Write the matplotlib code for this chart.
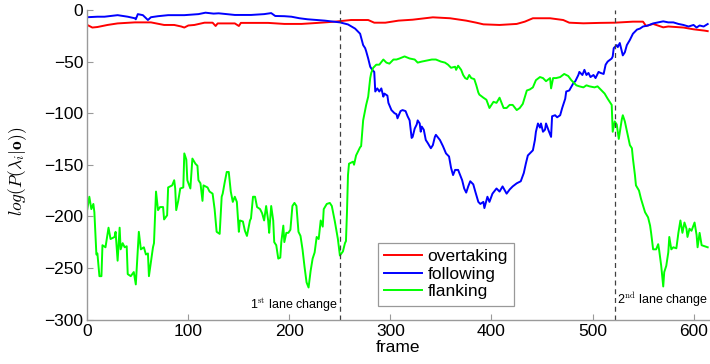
import matplotlib
matplotlib.use("Agg")
import matplotlib.pyplot as plt

plt.rcParams['font.family'] = ['Liberation Sans', 'DejaVu Sans']
plt.rcParams['mathtext.fontset'] = 'cm'

# ---- data ----
overtaking_frames = [0, 5, 10, 20, 30, 47, 63, 76, 86, 93, 96, 100, 106, 116, 124, 127, 129, 146, 150, 152,
                     179, 195, 212, 228, 245, 261, 278, 284, 295, 308, 322, 342, 359, 375, 385, 392, 408,
                     425, 433, 441, 458, 471, 477, 491, 507, 522, 540, 550, 553, 560, 570, 575, 590, 600, 611, 614]
overtaking_vals = [-14.5, -17, -16.5, -14.5, -13, -12, -12, -14.5, -14.5, -16, -17, -15, -14.5, -12.3, -12.3,
                   -15.5, -13, -13, -15.5, -12.5, -12.5, -13.5, -13.5, -12.5, -11.3, -9.7, -9.7, -12.3, -12.3,
                   -10.3, -9.4, -7.1, -8, -10.3, -12.3, -13.9, -14.5, -13.5, -11.3, -8, -8, -9.7, -12.3, -12.9,
                   -12.5, -12.3, -11.3, -11.3, -15.5, -13.5, -16.8, -16, -17, -18.7, -20, -20.5]

following_frames = [0, 10, 17, 30, 40, 47, 48, 50, 55, 60, 63, 70, 80, 96, 110, 117, 125, 130, 146, 162, 175,
                    182, 186, 195, 202, 210, 218, 235, 250, 258, 265, 270, 273, 275, 276, 278, 280, 282, 284,
                    285, 287, 289, 291, 293, 294, 297, 298, 301, 304, 306, 307, 310, 312, 315, 317, 319, 321,
                    322, 324, 326, 327, 329, 330, 331, 333, 335, 337, 340, 342, 344, 345, 349, 352, 355, 358,
                    360, 362, 364, 367, 369, 371, 373, 375, 377, 379, 382, 384, 387, 389, 392, 393, 396, 398,
                    401, 405, 408, 411, 415, 418, 421, 425, 429, 432, 434, 436, 439, 441, 443, 444, 446, 448,
                    449, 451, 453, 454, 457, 459, 460, 463, 465, 468, 470, 473, 474, 477, 481, 483, 486, 487,
                    490, 492, 494, 496, 498, 501, 503, 506, 508, 511, 513, 515, 519, 520, 521, 522, 524, 525,
                    527, 529, 530, 532, 534, 537, 540, 544, 547, 550, 555, 560, 565, 570, 575, 580, 585, 590,
                    595, 600, 603, 606, 610, 614]
following_vals = [-7, -6.5, -6.5, -5, -6.5, -8, -9, -4, -5, -9.7, -7, -6, -5, -5, -4, -2.6, -3.5, -3.2, -4.8,
                  -4.8, -4, -3, -5.8, -6, -6.5, -8, -9, -10.3, -12, -14, -18, -23, -34, -37, -40, -47, -55,
                  -58, -60, -79, -76, -79, -76, -84, -81, -83, -90, -97, -100, -101, -105, -98, -97, -98, -103,
                  -107, -124, -123, -115, -111, -107, -110, -118, -113, -116, -126, -129, -134, -131, -123,
                  -121, -126, -132, -139, -142, -153, -160, -155, -155, -160, -165, -173, -177, -171, -166,
                  -169, -176, -186, -188, -186, -192, -181, -186, -178, -173, -176, -171, -178, -174, -171,
                  -168, -166, -158, -149, -141, -138, -136, -126, -118, -110, -114, -110, -118, -116, -110,
                  -118, -123, -103, -102, -104, -102, -95, -86, -79, -78, -71, -69, -63, -60, -63, -58, -63,
                  -61, -65, -63, -66, -60, -61, -62, -53, -50, -47, -45, -37, -36, -34, -36, -32, -40, -44,
                  -41, -34, -29, -23, -19, -18, -16, -15, -13, -12, -11, -12, -12, -13.5, -14.5, -16, -14.5,
                  -17, -15, -16, -13.6]

flanking_frames = [0, 2, 4, 6, 7, 9, 10, 12, 14, 15, 18, 21, 23, 27, 28, 30, 32, 33, 35, 37, 39, 40, 43, 46,
                   48, 51, 53, 56, 58, 60, 61, 65, 66, 68, 70, 72, 75, 76, 79, 80, 84, 86, 87, 88, 90, 92, 95,
                   96, 98, 99, 102, 104, 107, 109, 110, 112, 114, 115, 119, 121, 124, 126, 128, 131, 133, 134,
                   136, 138, 140, 142, 144, 146, 148, 150, 151, 154, 156, 158, 161, 162, 164, 166, 168, 171,
                   173, 175, 177, 179, 180, 182, 184, 185, 187, 189, 191, 192, 194, 195, 197, 199, 201, 203,
                   205, 207, 209, 211, 213, 215, 217, 219, 221, 223, 225, 227, 229, 231, 233, 234, 237, 240,
                   242, 245, 248, 250, 253, 255, 256, 257, 258, 259, 263, 264, 266, 270, 271, 273, 276, 278,
                   280, 281, 283, 286, 289, 293, 296, 299, 303, 306, 309, 314, 319, 324, 327, 331, 336, 341,
                   345, 350, 354, 357, 360, 364, 365, 367, 370, 372, 374, 376, 378, 380, 383, 385, 387, 388,
                   392, 395, 398, 402, 405, 408, 412, 415, 418, 421, 425, 428, 431, 435, 438, 441, 444, 448,
                   451, 454, 458, 459, 461, 464, 468, 472, 476, 479, 484, 487, 491, 494, 497, 502, 505, 509,
                   512, 515, 519, 520, 522, 524, 526, 529, 530, 532, 534, 537, 539, 540, 542, 543, 546, 548,
                   552, 555, 557, 558, 560, 563, 565, 566, 568, 570, 571, 573, 575, 576, 578, 580, 583, 585,
                   587, 589, 591, 593, 594, 596, 598, 601, 603, 604, 606, 608, 611, 614]
flanking_vals = [-193, -181, -193, -188, -196, -237, -236, -258, -258, -228, -230, -211, -222, -220, -215,
                 -243, -211, -232, -226, -230, -229, -256, -258, -254, -266, -215, -232, -230, -237, -236,
                 -258, -230, -226, -176, -194, -191, -191, -203, -199, -172, -170, -165, -173, -194, -185,
                 -173, -172, -139, -145, -165, -173, -144, -149, -151, -165, -168, -185, -170, -172, -176,
                 -178, -193, -215, -217, -181, -178, -167, -157, -157, -176, -186, -181, -186, -215, -204,
                 -205, -214, -219, -204, -202, -181, -181, -191, -193, -197, -204, -190, -204, -216, -190,
                 -204, -225, -228, -241, -240, -225, -209, -225, -216, -216, -213, -190, -187, -190, -215,
                 -219, -232, -249, -264, -269, -253, -241, -235, -220, -222, -204, -210, -193, -188, -187,
                 -190, -205, -222, -238, -234, -226, -224, -196, -160, -149, -147, -150, -141, -133, -132,
                 -107, -92, -84, -66, -61, -56, -53, -53, -48, -51, -52, -48, -48, -47, -45, -47, -48, -51,
                 -50, -49, -48, -48, -50, -51, -53, -56, -55, -58, -54, -58, -63, -66, -67, -63, -66, -67,
                 -73, -80, -82, -85, -87, -95, -89, -90, -85, -95, -95, -92, -92, -97, -95, -91, -78, -77,
                 -75, -68, -65, -66, -69, -66, -76, -66, -66, -65, -62, -64, -68, -73, -74, -75, -73, -74,
                 -75, -74, -78, -81, -86, -92, -118, -108, -111, -125, -106, -102, -108, -117, -131, -134,
                 -144, -160, -170, -175, -183, -196, -201, -209, -216, -232, -232, -227, -233, -248, -268,
                 -254, -248, -235, -220, -232, -230, -231, -216, -204, -216, -206, -212, -220, -212, -214,
                 -206, -218, -230, -216, -228, -229, -230]

lane_change_frames = [250, 522]
x_ticks = [0, 100, 200, 300, 400, 500, 600]
y_ticks = [-300, -250, -200, -150, -100, -50, 0]

# ---- figure ----
fig = plt.figure(figsize=(7.10, 3.64), dpi=100)
ax = fig.add_axes([87.3 / 710, 44.5 / 364, (708.7 - 87.3) / 710, (319.5 - 10) / 364])

lw = 1.4
ax.plot(overtaking_frames, overtaking_vals, color='#ff0000', lw=lw, label='overtaking')
ax.plot(following_frames, following_vals, color='#0000ff', lw=lw, label='following')
ax.plot(flanking_frames, flanking_vals, color='#00ff00', lw=lw, label='flanking')

for f in lane_change_frames:
    ax.axvline(f, color='#404040', lw=0.9, ls=(0, (4, 3)))

ax.text(lane_change_frames[0] - 2, -290, r'1$^{\mathrm{st}}$ lane change', ha='right', va='baseline',
        fontsize=9)
ax.text(lane_change_frames[1] + 2, -285, r'2$^{\mathrm{nd}}$ lane change', ha='left', va='baseline',
        fontsize=9)

ax.set_xlim(0, 615)
ax.set_ylim(-300, 0)
ax.set_xticks(x_ticks)
ax.set_yticks(y_ticks)
ax.set_yticklabels(['\u2212300', '\u2212250', '\u2212200', '\u2212150', '\u2212100', '\u221250', '0'])

for s in ['top', 'right']:
    ax.spines[s].set_visible(False)
for s in ['left', 'bottom']:
    ax.spines[s].set_color('#9a9a9a')
    ax.spines[s].set_linewidth(1.0)
ax.tick_params(direction='in', length=4, color='#9a9a9a', labelsize=12.5, labelcolor='black', pad=3)

ax.set_xlabel('frame', fontsize=12.5, labelpad=1)
ax.set_ylabel(r'$log(P(\lambda_i|\mathbf{o}))$', fontsize=12.5, va='center')
ax.yaxis.set_label_coords(-0.112, 0.477)

leg = ax.legend(loc='lower left', bbox_to_anchor=(0.468, 0.045), fontsize=12.5, frameon=True,
                fancybox=False, edgecolor='#808080', handlelength=2.2, handletextpad=0.3,
                labelspacing=0.15, borderpad=0.35, borderaxespad=0)
leg.get_frame().set_linewidth(0.9)

fig.savefig('out.png', dpi=100)
